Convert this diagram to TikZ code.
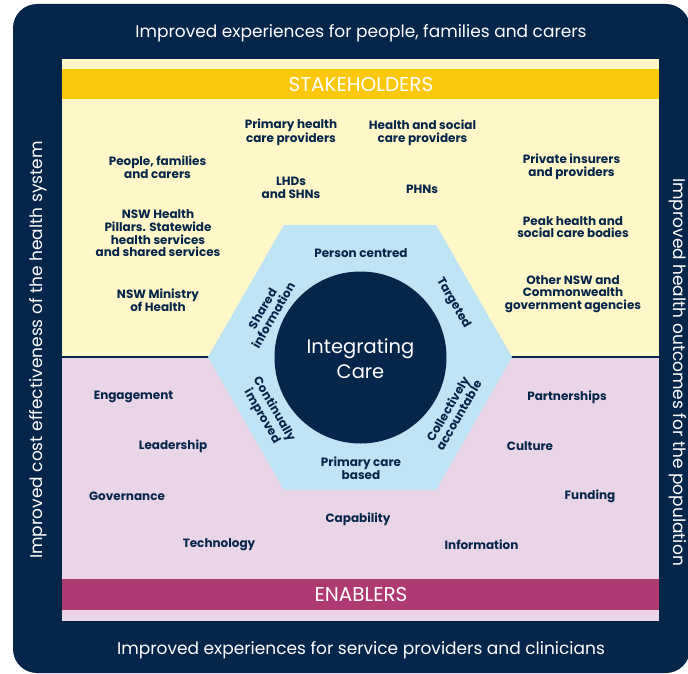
\documentclass[tikz,border=0pt]{standalone}
\usepackage{fontspec}
\setmainfont{Poppins}
\usepackage{xcolor}
\definecolor{navy}{RGB}{6,37,74}
\definecolor{paleyellow}{RGB}{254,248,200}
\definecolor{gold}{RGB}{251,200,12}
\definecolor{palepink}{RGB}{233,212,232}
\definecolor{berry}{RGB}{175,58,113}
\definecolor{skyblue}{RGB}{191,228,246}
\usetikzlibrary{positioning, calc}
\tikzstyle{Label} = [
text=navy,
font=\bfseries\fontsize{12}{12.7}\selectfont,
align=center, inner sep=0pt]
\tikzstyle{Border} = [
text=white,
font=\fontsize{17}{19}\selectfont,
inner sep=0pt]
\tikzstyle{Banner} = [
text=white,
font=\fontsize{20}{22}\selectfont,
inner sep=0pt]
\tikzstyle{Side} = [
text=navy,
font=\bfseries\fontsize{12}{12.7}\selectfont,
align=center, inner sep=0pt]

\begin{document}
\begin{tikzpicture}[x=1pt, y=-1pt]
    \useasboundingbox (0,0) rectangle (688,674);
    \begin{scope}
        \clip (0,0) rectangle (688,674);
        \fill[navy, rounded corners=24pt] (13,4) rectangle (690,673);
    \end{scope}

    % stakeholders above, enablers below
    \fill[paleyellow] (62,59) rectangle (659,357);
    \fill[gold] (62,69) rectangle (659,99);
    \fill[palepink] (62,357) rectangle (659,621);
    \fill[berry] (62,579) rectangle (659,610);
    \draw[navy, line width=1.2pt] (62,357) -- (659,357);

    \fill[skyblue] (208,357) -- (284,225) -- (436,225) -- (512,357)
        -- (436,490) -- (284,490) -- cycle;
    \fill[navy] (360.5,357.5) circle (86);

    \node[Border] (top) at (361,33) {Improved experiences for people, families and carers};
    \node[Border] (bottom) at (361,650) {Improved experiences for service providers and clinicians};
    \node[Border, rotate=90] (left) at (38,350) {Improved cost effectiveness of the health system};
    \node[Border, rotate=-90] (right) at (678,372) {Improved health outcomes for the population};
    \node[Banner] (stakeholders) at (361,84.5) {STAKEHOLDERS};
    \node[Banner] (enablers) at (361,595) {ENABLERS};

    \node[Label] (phc) at (291,132.5) {Primary health\\care providers};
    \node[Label] (hsc) at (422.5,132.5) {Health and social\\care providers};
    \node[Label] (people) at (157.5,167) {People, families\\and carers};
    \node[Label] (lhd) at (291,187.5) {LHDs\\and SHNs};
    \node[Label] (phn) at (422,189) {PHNs};
    \node[Label] (private) at (571.5,167) {Private insurers\\and providers};
    \node[Label] (pillars) at (158,233.5) {NSW Health\\Pillars. Statewide\\health services\\and shared services};
    \node[Label] (peak) at (573,227) {Peak health and\\social care bodies};
    \node[Label] (ministry) at (158,300.5) {NSW Ministry\\of Health};
    \node[Label] (other) at (573,294) {Other NSW and\\Commonwealth\\government agencies};

    \node[text=white, align=center, inner sep=0pt,
        font=\fontsize{19.5}{25}\selectfont] (core) at (360.5,359) {Integrating\\Care};

    \node[Side] (person) at (361,253) {Person centred};
    \node[Side, rotate=60] (shared) at (268,312) {Shared\\information};
    \node[Side, rotate=-60] (targeted) at (453,303) {Targeted};
    \node[Side, rotate=-60] (improved) at (268,413) {Continually\\improved};
    \node[Side, rotate=60] (accountable) at (453,412) {Collectively\\accountable};
    \node[Side] (primary) at (361,468) {Primary care\\based};

    \node[Label] (engagement) at (133.5,397) {Engagement};
    \node[Label] (leadership) at (173,446) {Leadership};
    \node[Label] (governance) at (127,496) {Governance};
    \node[Label] (technology) at (219,545) {Technology};
    \node[Label] (capability) at (358,519) {Capability};
    \node[Label] (partnerships) at (567,397) {Partnerships};
    \node[Label] (culture) at (530,446) {Culture};
    \node[Label] (funding) at (590,496) {Funding};
    \node[Label] (information) at (481.5,545) {Information};
\end{tikzpicture}
\end{document}
